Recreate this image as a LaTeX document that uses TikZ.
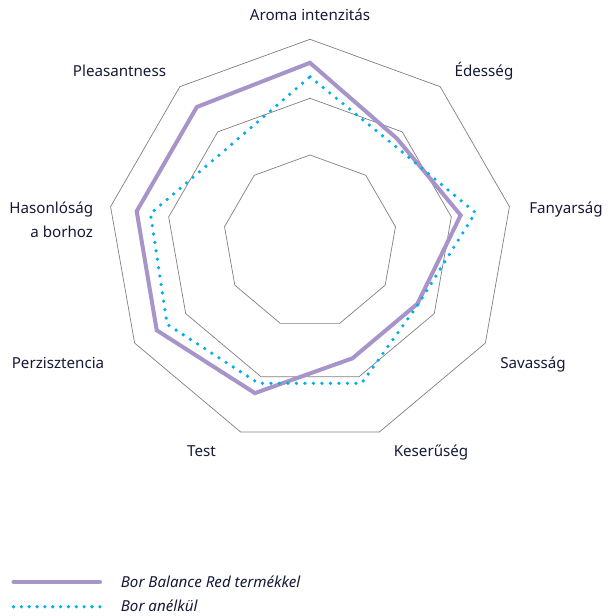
\documentclass[tikz,border=0pt]{standalone}
\usepackage{fontspec}
\setmainfont{Noto Sans}
\definecolor{txt}{HTML}{161A36}
\definecolor{lav}{HTML}{A794C8}
\definecolor{sky}{HTML}{00AEEF}
\definecolor{gridc}{HTML}{808080}
\begin{document}
\begin{tikzpicture}[x=1bp,y=1bp,
  lbl/.style={text=txt,font=\fontsize{15.2}{17}\selectfont,inner sep=0pt,anchor=base},
  gridline/.style={draw=gridc,line width=0.7bp},
  purp/.style={draw=lav,line width=4bp,line join=miter},
  dotty/.style={draw=sky,line width=3.6bp,line cap=round,dash pattern=on 0bp off 8.5bp}]
\useasboundingbox (0,-616) rectangle (608,0);
\begin{scope}[shift={(310,-241.8)}]
  \foreach \R in {86.8,143.5,202.5}{
    \draw[gridline] (90:\R) \foreach \k in {1,...,8}{ -- ({90-40*\k}:\R)} -- cycle;
  }
  \draw[purp] (90:179) -- (50:135) -- (10:153) -- (-30:124) -- (-70:124)
    -- (-110:161) -- (-150:177) -- (170:176) -- (130:176) -- cycle;
  \draw[dotty] (90:165) -- (50:128) -- (10:168) -- (-30:125) -- (-70:150.6)
    -- (-110:150.6) -- (-150:165) -- (170:162) -- (130:125) -- cycle;
\end{scope}
\node[lbl] (aroma) at (310,-20.3) {Aroma intenzitás};
\node[lbl] (edes) at (484,-76.5) {Édesség};
\node[lbl] (fany) at (566,-213.5) {Fanyarság};
\node[lbl] (sav) at (533,-368.5) {Savasság};
\node[lbl] (keser) at (431,-456) {Keserűség};
\node[lbl] (test) at (201.5,-456) {Test};
\node[lbl] (perz) at (58,-368.5) {Perzisztencia};
\node[lbl,anchor=base east] (hason1) at (93.3,-213.5) {Hasonlóság};
\node[lbl,anchor=base east] (hason2) at (93.3,-237) {a borhoz};
\node[lbl] (pleas) at (119.5,-76.5) {Pleasantness};
% legend
\coordinate (l1a) at (13.5,-581.7);
\coordinate (l1b) at (100,-581.7);
\coordinate (l2a) at (13.5,-606.7);
\coordinate (l2b) at (100,-606.7);
\draw[draw=lav,line width=4bp,line cap=round] (l1a) -- (l1b);
\draw[dotty,dash pattern=on 0bp off 7.85bp] (l2a) -- (l2b);
\node[lbl,anchor=base west,font=\fontsize{15.2}{17}\selectfont\itshape] (leg1) at (120.7,-587) {Bor Balance Red termékkel};
\node[lbl,anchor=base west,font=\fontsize{15.2}{17}\selectfont\itshape] (leg2) at (120.7,-611.5) {Bor anélkül};
\end{tikzpicture}
\end{document}
